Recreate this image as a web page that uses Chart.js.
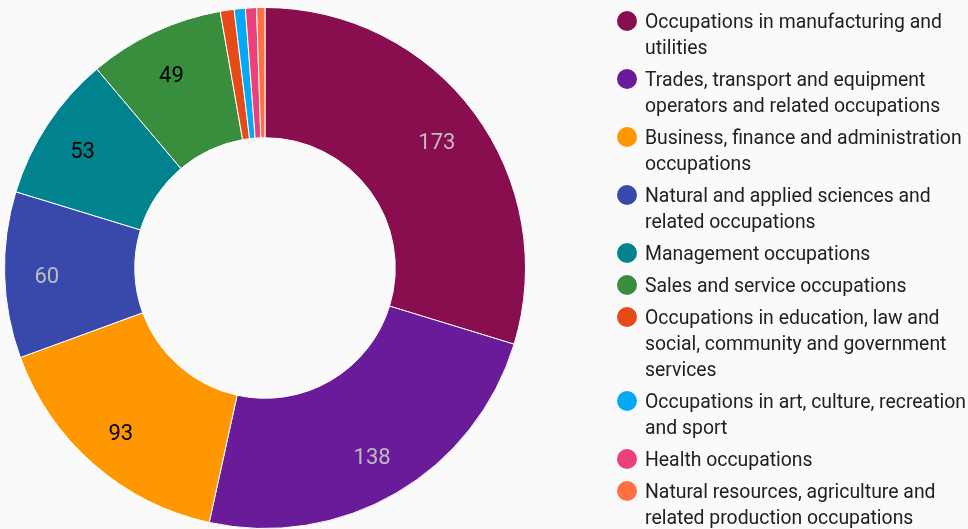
<!DOCTYPE html>
<html>
<head>
<meta charset="utf-8">
<script src="https://cdn.jsdelivr.net/npm/chart.js@4"></script>
<style>
  html, body { margin: 0; padding: 0; background: #fafafa; }
  #wrap { position: relative; width: 968px; height: 529px; }
  #myChart { position: absolute; left: 0; top: 0; }
  #legend { position: absolute; left: 617px; top: 9px; width: 351px;
    font-family: Roboto, sans-serif; font-size: 19.4px; color: #212121; white-space: nowrap; }
  .item { display: flex; align-items: flex-start; margin-bottom: 6px; line-height: 26px; }
  .dot { width: 20px; height: 20px; border-radius: 50%; margin-top: 2px; margin-right: 8px; flex: none; }
</style>
</head>
<body>
<div id="wrap">
  <canvas id="myChart" width="968" height="529"></canvas>
  <div id="legend"></div>
</div>
<script>
const labels = [
  ["Occupations in manufacturing and", "utilities"],
  ["Trades, transport and equipment", "operators and related occupations"],
  ["Business, finance and administration", "occupations"],
  ["Natural and applied sciences and", "related occupations"],
  ["Management occupations"],
  ["Sales and service occupations"],
  ["Occupations in education, law and", "social, community and government", "services"],
  ["Occupations in art, culture, recreation", "and sport"],
  ["Health occupations"],
  ["Natural resources, agriculture and", "related production occupations"]
]
const counts = [173, 138, 93, 60, 53, 49, 5, 4, 4, 3]
const colors = ['#880E4F', '#6A1B9A', '#FF9800', '#3949AB', '#00838F',
                '#388E3C', '#E64A19', '#03A9F4', '#EC407A', '#FF7043']
const labelColors = ['#bdbdbd', '#bdbdbd', '#000000', '#bdbdbd', '#000000',
                     '#000000', '#000000', '#000000', '#000000', '#000000']

// legend as html so the long names can wrap like the original
const legendEl = document.getElementById('legend')
labels.forEach((lines, i) => {
  const item = document.createElement('div')
  item.className = 'item'
  item.innerHTML = `<span class="dot" style="background:${colors[i]}"></span><span>${lines.join('<br>')}</span>`
  legendEl.appendChild(item)
})

const sliceLabels = {
  id: 'sliceLabels',
  afterDatasetsDraw(chart) {
    const ctx = chart.ctx
    const meta = chart.getDatasetMeta(0)
    ctx.save()
    ctx.font = '22px Roboto, sans-serif'
    ctx.textAlign = 'center'
    ctx.textBaseline = 'middle'
    meta.data.forEach((arc, i) => {
      const v = counts[i]
      if (v < 10) return
      const p = arc.getProps(['x', 'y', 'startAngle', 'endAngle', 'innerRadius', 'outerRadius'], true)
      const mid = (p.startAngle + p.endAngle) / 2
      const r = p.innerRadius + 0.66 * (p.outerRadius - p.innerRadius)
      ctx.fillStyle = labelColors[i]
      ctx.fillText(String(v), p.x + Math.cos(mid) * r - 2, p.y + Math.sin(mid) * r + 4)
    })
    ctx.restore()
  }
}

const ctx = document.getElementById('myChart')
new Chart(ctx, {
  type: 'doughnut',
  data: {
    labels: labels,
    datasets: [{
      label: 'Count',
      data: counts,
      backgroundColor: colors,
      borderColor: '#ffffff',
      borderWidth: 1
    }]
  },
  options: {
    responsive: false,
    animation: false,
    cutout: '50%',
    layout: { padding: { left: 4, right: 442, top: 7, bottom: 0 } },
    plugins: {
      legend: { display: false },
      tooltip: { enabled: false }
    }
  },
  plugins: [sliceLabels]
})
</script>
</body>
</html>
